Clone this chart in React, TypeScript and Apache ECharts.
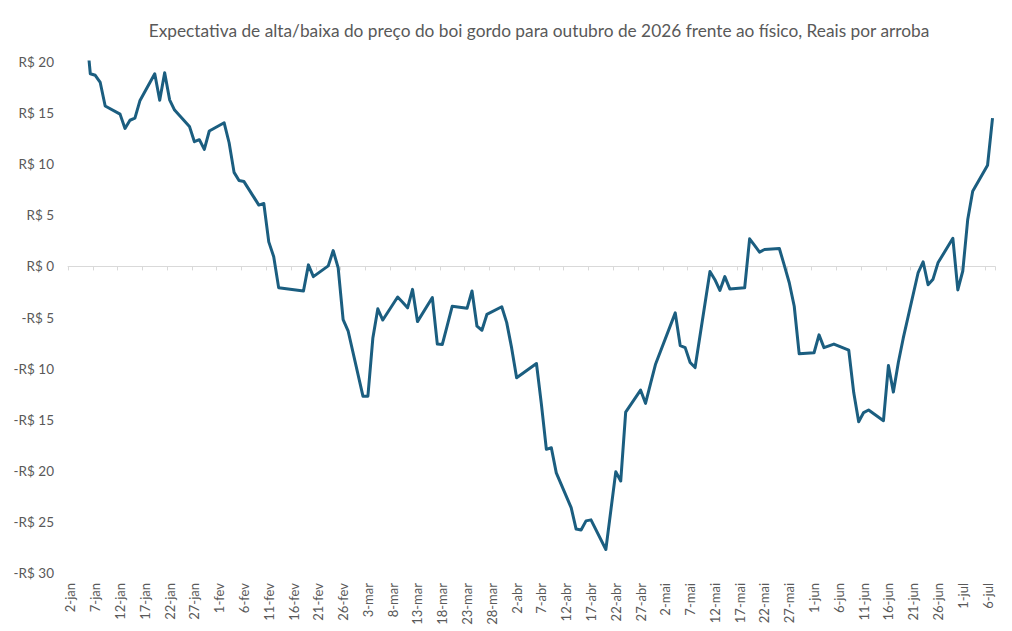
import React, { useEffect, useRef } from "react";
import * as echarts from "echarts";

const TITLE =
  "Expectativa de alta/baixa do preço do boi gordo para outubro de 2026 frente ao físico, Reais por arroba";
const MONTHS = ["jan", "fev", "mar", "abr", "mai", "jun", "jul", "ago", "set", "out", "nov", "dez"];
const AXIS_START: [number, number, number] = [2026, 0, 2];
const AXIS_END: [number, number, number] = [2026, 6, 7];
const Y_MIN = -30;
const Y_MAX = 20;
const Y_STEP = 5;

const tradeDays = [
  "5-jan", "6-jan", "7-jan", "8-jan", "9-jan", "12-jan", "13-jan", "14-jan", "15-jan", "16-jan",
  "19-jan", "20-jan", "21-jan", "22-jan", "23-jan", "26-jan", "27-jan", "28-jan", "29-jan", "30-jan",
  "2-fev", "3-fev", "4-fev", "5-fev", "6-fev", "9-fev", "10-fev", "11-fev", "12-fev", "13-fev",
  "18-fev", "19-fev", "20-fev", "23-fev", "24-fev", "25-fev", "26-fev", "27-fev",
  "2-mar", "3-mar", "4-mar", "5-mar", "6-mar", "9-mar", "10-mar", "11-mar", "12-mar", "13-mar",
  "16-mar", "17-mar", "18-mar", "19-mar", "20-mar", "23-mar", "24-mar", "25-mar", "26-mar", "27-mar",
  "30-mar", "31-mar", "1-abr", "2-abr", "6-abr", "7-abr", "8-abr", "9-abr", "10-abr",
  "13-abr", "14-abr", "15-abr", "16-abr", "17-abr", "20-abr", "22-abr", "23-abr", "24-abr",
  "27-abr", "28-abr", "29-abr", "30-abr", "4-mai", "5-mai", "6-mai", "7-mai", "8-mai",
  "11-mai", "12-mai", "13-mai", "14-mai", "15-mai", "18-mai", "19-mai", "20-mai", "21-mai", "22-mai",
  "25-mai", "26-mai", "27-mai", "28-mai", "29-mai", "1-jun", "2-jun", "3-jun", "5-jun",
  "8-jun", "9-jun", "10-jun", "11-jun", "12-jun", "15-jun", "16-jun", "17-jun", "18-jun", "19-jun",
  "22-jun", "23-jun", "24-jun", "25-jun", "26-jun", "29-jun", "30-jun", "1-jul", "2-jul", "3-jul",
  "6-jul", "7-jul",
];

const premium = [
  24, 18.85, 18.7, 18.0, 15.7, 14.9, 13.5, 14.3, 14.5, 16.2,
  18.85, 16.25, 18.95, 16.3, 15.3, 13.7, 12.2, 12.4, 11.45, 13.25,
  14.05, 12.1, 9.2, 8.4, 8.3, 6.0, 6.15, 2.4, 0.95, -2.1,
  -2.4, 0.15, -1.0, 0.05, 1.55, -0.15, -5.2, -6.3,
  -12.7, -12.7, -7.0, -4.15, -5.25, -3.0, -3.5, -4.05, -2.25, -5.4,
  -3.05, -7.6, -7.65, -5.8, -3.9, -4.1, -2.4, -5.85, -6.25, -4.7,
  -3.95, -5.5, -8.0, -10.9, -9.5, -13.5, -17.9, -17.75, -20.2,
  -23.6, -25.7, -25.8, -24.9, -24.8, -27.7, -20.1, -21.0, -14.25,
  -12.1, -13.4, -11.5, -9.6, -4.55, -7.75, -7.95, -9.4, -9.9,
  -0.5, -1.3, -2.35, -1.0, -2.2, -2.1, 2.7, 2.05, 1.4, 1.65,
  1.75, 0.1, -1.6, -3.9, -8.55, -8.45, -6.7, -7.95, -7.6,
  -8.2, -12.35, -15.2, -14.3, -14.05, -15.1, -9.7, -12.3, -9.4, -7.0,
  -0.6, 0.45, -1.8, -1.25, 0.35, 2.75, -2.3, -0.45, 4.6, 7.35,
  9.9, 14.5,
];

function buildCategories(): string[] {
  const out: string[] = [];
  const start = Date.UTC(AXIS_START[0], AXIS_START[1], AXIS_START[2]);
  const end = Date.UTC(AXIS_END[0], AXIS_END[1], AXIS_END[2]);
  for (let t = start; t <= end; t += 86400000) {
    const d = new Date(t);
    out.push(`${d.getUTCDate()}-${MONTHS[d.getUTCMonth()]}`);
  }
  return out;
}

const fmtReal = (v: number) => (v < 0 ? `-R$ ${Math.abs(v)}` : `R$ ${v}`);

export default function App() {
  const ref = useRef<HTMLDivElement>(null);

  useEffect(() => {
    if (!ref.current) return;
    const chart = echarts.init(ref.current, undefined, { renderer: "svg" });
    const categories = buildCategories();
    const byDay = new Map<string, number>();
    tradeDays.forEach((d, i) => byDay.set(d, premium[i]));
    const seriesData = categories.map((c) => (byDay.has(c) ? byDay.get(c)! : null));

    const FONT = "Lato";
    const GRAY = "#595959";

    chart.setOption({
      animation: false,
      backgroundColor: "#ffffff",
      title: {
        text: TITLE,
        left: 534,
        top: 17,
        textAlign: "center",
        textStyle: { fontFamily: FONT, fontSize: 17.3, fontWeight: "normal", color: GRAY },
      },
      grid: { left: 68, right: 17, top: 62, bottom: 58, containLabel: false },
      xAxis: [
        {
          type: "category",
          data: categories,
          boundaryGap: true,
          position: "bottom",
          axisLine: { show: false, onZero: false },
          axisTick: { show: false },
          splitLine: { show: false },
          axisLabel: {
            interval: 4,
            rotate: 90,
            margin: 10,
            fontFamily: FONT,
            fontSize: 13,
            color: GRAY,
          },
        },
        {
          type: "category",
          data: categories,
          boundaryGap: true,
          position: "bottom",
          axisLine: { show: true, onZero: true, lineStyle: { color: "#d9d9d9", width: 1 } },
          axisTick: { show: true, interval: 4, length: 4, lineStyle: { color: "#d9d9d9" } },
          axisLabel: { show: false },
          splitLine: { show: false },
        },
      ],
      yAxis: {
        type: "value",
        min: Y_MIN,
        max: Y_MAX,
        interval: Y_STEP,
        axisLine: { show: false },
        axisTick: { show: false },
        splitLine: { show: false },
        axisLabel: {
          formatter: fmtReal,
          margin: 14,
          fontFamily: FONT,
          fontSize: 13.5,
          color: GRAY,
        },
      },
      series: [
        {
          type: "line",
          xAxisIndex: 0,
          data: seriesData,
          connectNulls: true,
          showSymbol: false,
          symbol: "none",
          clip: true,
          lineStyle: { color: "#1b5e80", width: 3, join: "round" },
        },
      ],
    });

    return () => chart.dispose();
  }, []);

  return <div ref={ref} style={{ width: 1012, height: 631, position: "absolute", left: 0, top: 0 }} />;
}
